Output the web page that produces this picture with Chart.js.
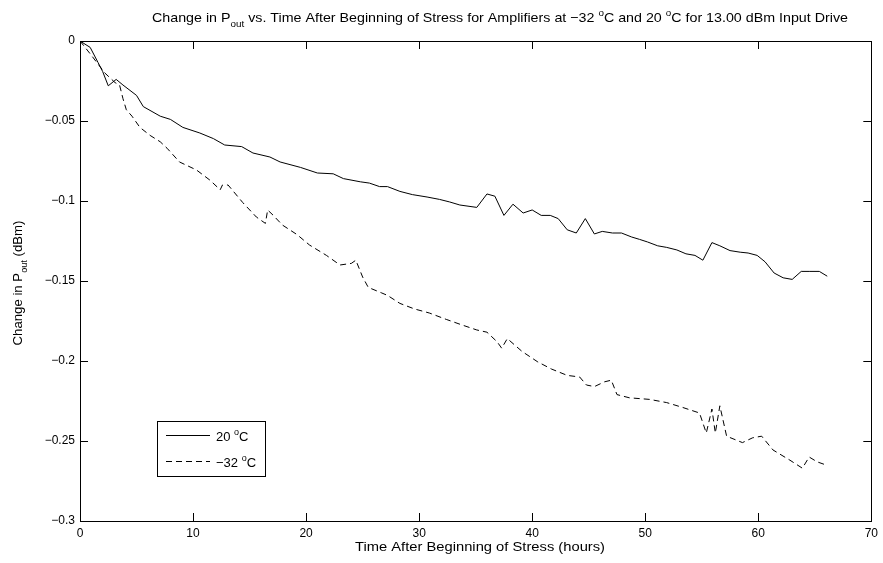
<!DOCTYPE html>
<html>
<head>
<meta charset="utf-8">
<script src="https://cdn.jsdelivr.net/npm/chart.js@4"></script>
<style>
  html, body { margin: 0; padding: 0; background: #fff; }
  #wrap { width: 883px; height: 563px; }
</style>
</head>
<body>
<div id="wrap"><canvas id="chart" width="883" height="563"></canvas></div>
<script>
// time after beginning of stress (hours) and change in Pout (dBm)
const hours20 = [0, 0.9, 1.6, 2.0, 2.5, 3.2, 3.8, 5.0, 5.6, 7.1, 8.0, 9.1, 10.6, 11.8, 12.8, 14.3, 15.3, 16.8,
  17.7, 19.5, 21.0, 22.4, 23.3, 24.8, 25.6, 26.5, 27.2, 28.3, 29.4, 30.7, 31.8, 32.7, 33.6, 35.1, 36.0, 36.7,
  37.5, 38.3, 39.2, 40.0, 40.8, 41.6, 42.3, 43.1, 43.9, 44.7, 45.5, 46.2, 47.1, 47.9, 48.8, 49.5, 50.2, 51.1,
  51.9, 52.8, 53.6, 54.4, 55.1, 55.9, 56.6, 57.5, 58.4, 59.1, 59.9, 60.6, 61.4, 62.2, 63.0, 63.8, 64.5, 65.4, 66.1];
const dPout20 = [0, -0.004, -0.0135, -0.019, -0.028, -0.024, -0.0275, -0.034, -0.041, -0.047, -0.049, -0.054, -0.0575, -0.061, -0.065, -0.066, -0.070, -0.0725,
  -0.0756, -0.079, -0.0825, -0.083, -0.086, -0.088, -0.0888, -0.091, -0.091, -0.094, -0.096, -0.0975, -0.099, -0.1006, -0.1025, -0.104, -0.0956, -0.097,
  -0.109, -0.102, -0.1075, -0.1056, -0.109, -0.109, -0.111, -0.118, -0.120, -0.111, -0.1206, -0.119, -0.120, -0.120, -0.1225, -0.124, -0.1256, -0.128,
  -0.129, -0.1306, -0.133, -0.134, -0.137, -0.126, -0.128, -0.131, -0.132, -0.1325, -0.134, -0.138, -0.145, -0.148, -0.149, -0.144, -0.144, -0.144, -0.147];

const hours32 = [0, 0.9, 2.2, 3.1, 3.5, 3.8, 4.1, 4.6, 5.3, 6.2, 7.1, 7.7, 8.8, 10.3, 11.5, 12.4, 12.6, 13.1, 14.4,
  15.6, 16.4, 16.6, 17.1, 17.9, 19.2, 20.3, 21.8, 23.0, 24.0, 24.4, 25.0, 25.5, 26.7, 27.2, 28.3, 29.6, 30.9,
  32.4, 33.8, 35.1, 36.0, 36.9, 37.3, 37.8, 39.1, 40.5, 41.7, 43.1, 44.2, 44.8, 45.5, 46.4, 47.0, 47.5, 48.6,
  50.4, 51.9, 53.3, 54.8, 55.4, 55.9, 56.2, 56.6, 57.2, 58.6, 59.5, 60.3, 61.3, 62.8, 63.9, 64.5, 65.2, 66.0];
const dPout32 = [0, -0.008, -0.02, -0.026, -0.0275, -0.036, -0.043, -0.047, -0.054, -0.059, -0.063, -0.067, -0.0756, -0.0806, -0.087, -0.093, -0.090, -0.090, -0.101,
  -0.110, -0.114, -0.1056, -0.109, -0.115, -0.121, -0.1275, -0.134, -0.140, -0.139, -0.137, -0.1475, -0.154, -0.1575, -0.159, -0.164, -0.1675, -0.170,
  -0.174, -0.1775, -0.1806, -0.182, -0.188, -0.192, -0.186, -0.194, -0.2006, -0.205, -0.209, -0.210, -0.215, -0.216, -0.213, -0.212, -0.221, -0.223,
  -0.224, -0.226, -0.229, -0.2325, -0.245, -0.230, -0.245, -0.228, -0.247, -0.251, -0.248, -0.247, -0.2556, -0.262, -0.267, -0.260, -0.263, -0.265];

const seriesNames = ["20 °C", "\u221232 °C"];
const xTicks = [0, 10, 20, 30, 40, 50, 60, 70];
const yTicks = [0, -0.05, -0.1, -0.15, -0.2, -0.25, -0.3];

const FONT = '"Liberation Sans", Arial, Helvetica, sans-serif';

function toPoints(xs, ys) {
    return xs.map((x, i) => ({ x: x, y: ys[i] }));
}

// draw a run of text pieces, some of them sub- or superscript
function richWidth(ctx, parts, size) {
    let w = 0;
    parts.forEach(p => {
        ctx.font = (p.s ? Math.round(size * 0.72) : size) + "px " + FONT;
        w += ctx.measureText(p.t).width;
    });
    return w;
}
function drawRich(ctx, parts, x, y, size) {
    ctx.textBaseline = "alphabetic";
    ctx.textAlign = "left";
    parts.forEach(p => {
        let dy = 0;
        if (p.s === "sub") dy = size * 0.42;
        if (p.s === "sup") dy = -size * 0.45;
        ctx.font = (p.s ? Math.round(size * 0.72) : size) + "px " + FONT;
        ctx.fillText(p.t, x, y + dy);
        x += ctx.measureText(p.t).width;
    });
}
// centred, stretched sideways to a given width (the original export is a bit wide)
function drawRichFit(ctx, parts, cx, y, size, targetW) {
    const w = richWidth(ctx, parts, size);
    ctx.save();
    ctx.translate(cx, y);
    ctx.scale(targetW / w, 1);
    drawRich(ctx, parts, -w / 2, 0, size);
    ctx.restore();
}

const titleParts = [
    { t: "Change in P" }, { t: "out", s: "sub" },
    { t: " vs. Time After Beginning of Stress for Amplifiers at \u221232 " }, { t: "o", s: "sup" },
    { t: "C and 20 " }, { t: "o", s: "sup" }, { t: "C for 13.00 dBm Input Drive" }
];
const yLabelParts = [{ t: "Change in P" }, { t: "out", s: "sub" }, { t: " (dBm)" }];
const xLabelParts = [{ t: "Time After Beginning of Stress (hours)" }];

const decorations = {
    id: "decorations",
    afterDraw(chart) {
        const ctx = chart.ctx;
        const a = chart.chartArea;
        const xs = chart.scales.x, ys = chart.scales.y;
        ctx.save();
        ctx.fillStyle = "#000";
        ctx.strokeStyle = "#000";

        // box
        ctx.lineWidth = 1;
        ctx.strokeRect(Math.round(a.left) + 0.5, Math.round(a.top) + 0.5,
            Math.round(a.right - a.left), Math.round(a.bottom - a.top));

        // inward ticks, matlab style
        ctx.beginPath();
        xTicks.forEach(v => {
            const px = Math.round(xs.getPixelForValue(v)) + 0.5;
            ctx.moveTo(px, a.bottom); ctx.lineTo(px, a.bottom - 8);
            ctx.moveTo(px, a.top); ctx.lineTo(px, a.top + 8);
        });
        yTicks.forEach(v => {
            const py = Math.round(ys.getPixelForValue(v)) + 0.5;
            ctx.moveTo(a.left, py); ctx.lineTo(a.left + 8, py);
            ctx.moveTo(a.right, py); ctx.lineTo(a.right - 8, py);
        });
        ctx.stroke();

        // title and x label
        drawRichFit(ctx, titleParts, 500, 22, 13, 696);
        drawRichFit(ctx, xLabelParts, 480, 551, 13, 250);

        // y label, rotated
        ctx.save();
        ctx.translate(22, 283);
        ctx.rotate(-Math.PI / 2);
        drawRichFit(ctx, yLabelParts, 0, 0, 13, 125);
        ctx.restore();

        // legend box
        const lx = 157, ly = 421, lw = 108, lh = 55;
        ctx.fillStyle = "#fff";
        ctx.fillRect(lx, ly, lw, lh);
        ctx.strokeRect(lx + 0.5, ly + 0.5, lw, lh);
        chart.data.datasets.forEach((ds, i) => {
            const yy = ly + 14 + i * 26 + 0.5;
            ctx.setLineDash(ds.borderDash || []);
            ctx.lineWidth = ds.borderWidth;
            ctx.beginPath();
            ctx.moveTo(lx + 9, yy);
            ctx.lineTo(lx + 53, yy);
            ctx.stroke();
            ctx.setLineDash([]);
            ctx.fillStyle = "#000";
            const name = seriesNames[i].split(" ");
            drawRich(ctx, [{ t: name[0] + " " }, { t: "o", s: "sup" }, { t: "C" }], lx + 59, yy + 5, 13);
        });
        ctx.restore();
    }
};

new Chart(document.getElementById("chart"), {
    type: "line",
    data: {
        datasets: [
            {
                label: seriesNames[0],
                data: toPoints(hours20, dPout20),
                borderColor: "#000",
                borderWidth: 1,
                pointRadius: 0,
                tension: 0,
                fill: false
            },
            {
                label: seriesNames[1],
                data: toPoints(hours32, dPout32),
                borderColor: "#000",
                borderWidth: 1,
                borderDash: [6, 4],
                pointRadius: 0,
                tension: 0,
                fill: false
            }
        ]
    },
    options: {
        responsive: false,
        animation: false,
        layout: { padding: { left: 0, right: 11, top: 41, bottom: 0 } },
        plugins: {
            legend: { display: false },
            title: { display: false },
            tooltip: { enabled: false }
        },
        scales: {
            x: {
                type: "linear",
                min: 0,
                max: 70,
                afterFit: s => { s.height = 42; },
                afterBuildTicks: s => { s.ticks = xTicks.map(v => ({ value: v })); },
                grid: { display: false, drawTicks: false },
                border: { display: false },
                ticks: { color: "#000", padding: 5, maxRotation: 0, font: { family: FONT, size: 12 } }
            },
            y: {
                type: "linear",
                min: -0.3,
                max: 0,
                afterFit: s => { s.width = 80; },
                afterBuildTicks: s => { s.ticks = yTicks.map(v => ({ value: v })); },
                grid: { display: false, drawTicks: false },
                border: { display: false },
                ticks: {
                    color: "#000",
                    padding: 5,
                    font: { family: FONT, size: 12 },
                    callback: v => v === 0 ? "0" : "\u2212" + (+Math.abs(v).toFixed(2))
                }
            }
        }
    },
    plugins: [decorations]
});
</script>
</body>
</html>
